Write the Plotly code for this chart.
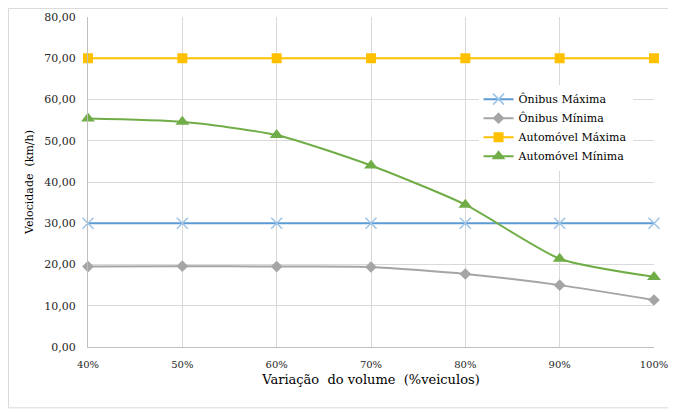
import plotly.graph_objects as go

volume = [40, 50, 60, 70, 80, 90, 100]
volume_labels = ['40%', '50%', '60%', '70%', '80%', '90%', '100%']

onibus_max = [30.0, 30.0, 30.0, 30.0, 30.0, 30.0, 30.0]
onibus_min = [19.5, 19.6, 19.5, 19.4, 17.7, 15.0, 11.4]
auto_max = [70.0, 70.0, 70.0, 70.0, 70.0, 70.0, 70.0]
auto_min = [55.4, 54.6, 51.4, 44.0, 34.5, 21.4, 17.0]

FONT = 'DejaVu Serif'

series = [
    ('Ônibus Máxima', onibus_max, '#5B9BD5', dict(symbol='x-thin', size=11, line=dict(color='#9DC3E6', width=1.5))),
    ('Ônibus Mínima', onibus_min, '#A5A5A5', dict(symbol='diamond', size=9, color='#A5A5A5')),
    ('Automóvel Máxima', auto_max, '#FFC000', dict(symbol='square', size=10, color='#FFC000')),
    ('Automóvel Mínima', auto_min, '#70AD47', dict(symbol='triangle-up', size=12, color='#70AD47')),
]

fig = go.Figure()
for name, vals, color, marker in series:
    fig.add_trace(go.Scatter(
        x=volume, y=vals, name=name, mode='lines+markers',
        line=dict(color=color, width=2, shape='spline', smoothing=0.6),
        marker=marker, cliponaxis=False,
    ))

fig.update_layout(
    width=668, height=404,
    margin=dict(l=80, r=22, t=9, b=65),
    paper_bgcolor='white', plot_bgcolor='white',
    separators=',.',
    font=dict(family=FONT, size=11, color='#262626'),
    showlegend=True,
    legend=dict(x=0.69, y=0.795, xanchor='left', yanchor='top',
                bgcolor='rgba(255,255,255,1)', font=dict(size=11, color='#000000'),
                tracegroupgap=0, itemsizing='trace'),
    xaxis=dict(
        range=[40, 100], tickvals=volume, ticktext=volume_labels,
        tickfont=dict(size=10),
        showgrid=True, gridcolor='#D9D9D9', gridwidth=1,
        showline=True, linecolor='#BFBFBF', linewidth=1,
        zeroline=False, ticks='', ticklabelstandoff=8,
        automargin=False, ticklabeloverflow='allow',
        title=dict(text='Variação  do volume  (%veiculos)', font=dict(size=13, color='#000000'), standoff=5),
    ),
    yaxis=dict(
        range=[0, 80], dtick=10, tickformat='.2f',
        showgrid=True, gridcolor='#D9D9D9', gridwidth=1,
        showline=True, linecolor='#BFBFBF', linewidth=1,
        zeroline=False, ticks='', ticklabelstandoff=9,
        automargin=False, ticklabeloverflow='allow',
        title=dict(text='Velocidade  (km/h)', font=dict(size=11, color='#000000'), standoff=8),
    ),
    shapes=[dict(type='rect', xref='paper', yref='paper',
                 x0=-0.1405, x1=1.0318, y0=-0.1843, y1=1.026,
                 line=dict(color='#D9D9D9', width=1), layer='below')],
)

fig.write_html('out.html')
